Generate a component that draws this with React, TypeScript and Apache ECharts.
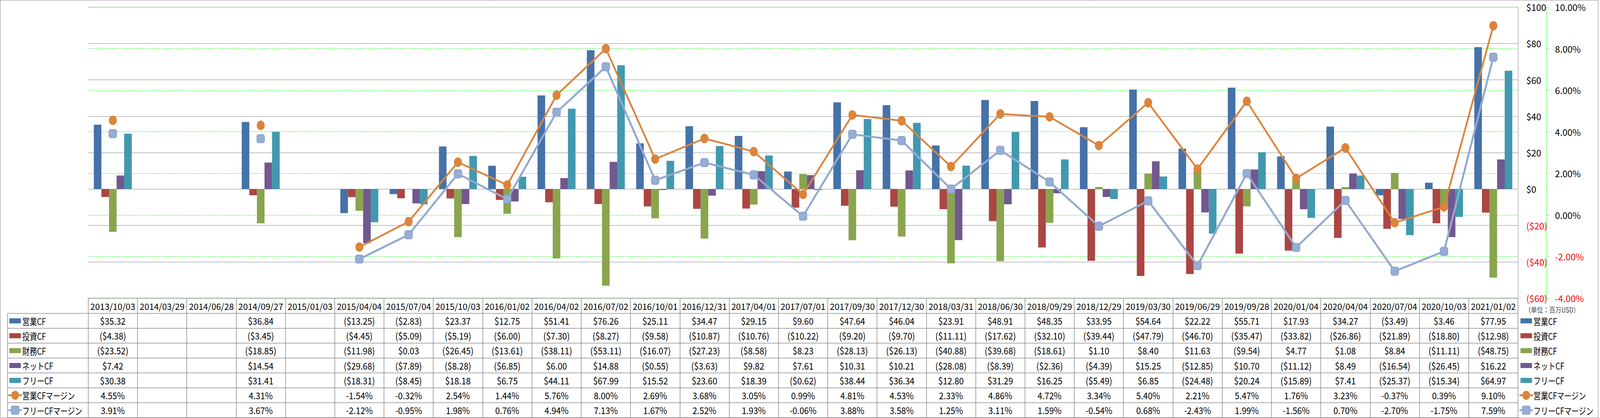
import React, { useEffect, useRef } from "react";
import * as echarts from "echarts";

const categories = [
  "2013/10/03", "2014/03/29", "2014/06/28", "2014/09/27", "2015/01/03", "2015/04/04",
  "2015/07/04", "2015/10/03", "2016/01/02", "2016/04/02", "2016/07/02", "2016/10/01",
  "2016/12/31", "2017/04/01", "2017/07/01", "2017/09/30", "2017/12/30", "2018/03/31",
  "2018/06/30", "2018/09/29", "2018/12/29", "2019/03/30", "2019/06/29", "2019/09/28",
  "2020/01/04", "2020/04/04", "2020/07/04", "2020/10/03", "2021/01/02",
];

const operatingCF = [35.32, null, null, 36.84, null, -13.25, -2.83, 23.37, 12.75, 51.41, 76.26, 25.11, 34.47, 29.15, 9.6, 47.64, 46.04, 23.91, 48.91, 48.35, 33.95, 54.64, 22.22, 55.71, 17.93, 34.27, -3.49, 3.46, 77.95];
const investingCF = [-4.38, null, null, -3.45, null, -4.45, -5.09, -5.19, -6.0, -7.3, -8.27, -9.58, -10.87, -10.76, -10.22, -9.2, -9.7, -11.11, -17.62, -32.1, -39.44, -47.79, -46.7, -35.47, -33.82, -26.86, -21.89, -18.8, -12.98];
const financingCF = [-23.52, null, null, -18.85, null, -11.98, 0.03, -26.45, -13.61, -38.11, -53.11, -16.07, -27.23, -8.58, 8.23, -28.13, -26.13, -40.88, -39.68, -18.61, 1.1, 8.4, 11.63, -9.54, 4.77, 1.08, 8.84, -11.11, -48.75];
const netCF = [7.42, null, null, 14.54, null, -29.68, -7.89, -8.28, -6.85, 6.0, 14.88, -0.55, -3.63, 9.82, 7.61, 10.31, 10.21, -28.08, -8.39, -2.36, -4.39, 15.25, -12.85, 10.7, -11.12, 8.49, -16.54, -26.45, 16.22];
const freeCF = [30.38, null, null, 31.41, null, -18.31, -8.45, 18.18, 6.75, 44.11, 67.99, 15.52, 23.6, 18.39, -0.62, 38.44, 36.34, 12.8, 31.29, 16.25, -5.49, 6.85, -24.48, 20.24, -15.89, 7.41, -25.37, -15.34, 64.97];
const operatingMargin = [4.55, null, null, 4.31, null, -1.54, -0.32, 2.54, 1.44, 5.76, 8.0, 2.69, 3.68, 3.05, 0.99, 4.81, 4.53, 2.33, 4.86, 4.72, 3.34, 5.4, 2.21, 5.47, 1.76, 3.23, -0.37, 0.39, 9.1];
const freeMargin = [3.91, null, null, 3.67, null, -2.12, -0.95, 1.98, 0.76, 4.94, 7.13, 1.67, 2.52, 1.93, -0.06, 3.88, 3.58, 1.25, 3.11, 1.59, -0.54, 0.68, -2.43, 1.99, -1.56, 0.7, -2.7, -1.75, 7.59];

const seriesNames = ["営業CF", "投資CF", "財務CF", "ネットCF", "フリーCF", "営業CFマージン", "フリーCFマージン"];
const colors = ["#4572A7", "#AA4643", "#89A54E", "#71588F", "#4198AF", "#DB843D", "#93A9CF"];

const unitText = "（単位：百万USD）";

const FONT = '"Noto Sans CJK JP", "Noto Sans", sans-serif';
const BORDER = "#8c8c8c";

const money = (v: number | null) =>
  v == null ? "" : v < 0 ? `($${(-v).toFixed(2)})` : `$${v.toFixed(2)}`;
const pct = (v: number | null) => (v == null ? "" : `${v.toFixed(2)}%`);

export default function App() {
  const ref = useRef<HTMLDivElement>(null);
  const W = typeof window !== "undefined" && window.innerWidth ? window.innerWidth : 4447;
  const H = typeof window !== "undefined" && window.innerHeight ? window.innerHeight : 1071;

  useEffect(() => {
    if (!ref.current) return;
    const sx = W / 4447;
    const sy = H / 1071;
    const X = (v: number) => v * sx;
    const Y = (v: number) => v * sy;
    const fs = (v: number) => Math.round(v * sy * 10) / 10;

    const GRID_LEFT = X(245);
    const GRID_RIGHT_X = X(4219);
    const GRID_TOP = Y(18);
    const GRID_BOTTOM_Y = Y(764);
    const HEADER_BOTTOM = Y(803);
    const TABLE_BOTTOM = Y(1070);

    const chart = echarts.init(ref.current, null, { renderer: "svg" });
    const barData = [operatingCF, investingCF, financingCF, netCF, freeCF];
    const lineData = [operatingMargin, freeMargin];

    const series: any[] = [];
    barData.forEach((d, i) => {
      series.push({
        name: seriesNames[i],
        type: "bar",
        yAxisIndex: 0,
        data: d,
        barGap: "0%",
        barCategoryGap: "23%",
        itemStyle: { color: colors[i] },
        z: 2,
      });
    });
    series.push({
      name: seriesNames[5],
      type: "line",
      yAxisIndex: 1,
      data: lineData[0],
      connectNulls: false,
      symbol: "circle",
      symbolSize: [X(21), Y(23)],
      lineStyle: { color: colors[5], width: 4.5 },
      itemStyle: { color: "#DC843A", borderColor: "#D57C33", borderWidth: 1 },
      z: 4,
    });
    series.push({
      name: seriesNames[6],
      type: "line",
      yAxisIndex: 1,
      data: lineData[1],
      connectNulls: false,
      symbol: "roundRect",
      symbolSize: [X(21), Y(21)],
      lineStyle: { color: colors[6], width: 5 },
      itemStyle: { color: "#96ADD4", borderColor: "#8BA3CC", borderWidth: 2 },
      z: 5,
    });

    const dollarFmt = (v: number) => (v < 0 ? `($${-v})` : `$${v}`);
    const pctFmt = (v: number) => `${v.toFixed(2)}%`;

    chart.setOption({
      animation: false,
      backgroundColor: "#ffffff",
      textStyle: { fontFamily: FONT },
      grid: {
        left: GRID_LEFT,
        right: W - GRID_RIGHT_X,
        top: GRID_TOP,
        bottom: H - GRID_BOTTOM_Y,
        containLabel: false,
      },
      xAxis: {
        type: "category",
        data: categories,
        boundaryGap: true,
        axisLine: { show: true, onZero: false, lineStyle: { color: BORDER, width: 1.5 } },
        axisTick: { show: true, length: TABLE_BOTTOM - GRID_BOTTOM_Y, interval: 0, lineStyle: { color: BORDER, width: 1.5 } },
        axisLabel: { interval: 0, margin: Y(9), fontSize: fs(22), color: "#000", fontFamily: FONT },
        splitLine: { show: false },
      },
      yAxis: [
        {
          type: "value",
          position: "right",
          min: -60,
          max: 100,
          interval: 20,
          axisLine: { show: true, lineStyle: { color: "#878787", width: 1 } },
          axisTick: { show: false },
          axisLabel: {
            margin: X(23),
            fontSize: fs(23),
            fontFamily: FONT,
            formatter: dollarFmt,
            color: (v: any) => (Number(v) < 0 ? "#ff0000" : "#000000"),
          },
          splitLine: { show: true, lineStyle: { color: "#878787", width: 1 } },
        },
        {
          type: "value",
          position: "right",
          offset: X(79),
          min: -4,
          max: 10,
          interval: 2,
          axisLine: { show: true, lineStyle: { color: "#00ff00", width: 1, type: [4, 2] } },
          axisTick: { show: true, length: X(9), lineStyle: { color: "#00ff00", width: 1, type: [4, 2] } },
          axisLabel: {
            margin: X(24),
            fontSize: fs(23),
            fontFamily: FONT,
            formatter: pctFmt,
            color: (v: any) => (Number(v) < 0 ? "#ff0000" : "#000000"),
          },
          splitLine: { show: true, lineStyle: { color: "#00ff00", width: 1, type: [4, 2] } },
        },
      ],
      series,
    });

    const xs = categories.map((_, i) => chart.convertToPixel({ xAxisIndex: 0 }, i) as number);
    const rowH = (TABLE_BOTTOM - HEADER_BOTTOM) / 7;
    const tableValues = [operatingCF, investingCF, financingCF, netCF, freeCF, operatingMargin, freeMargin];
    const graphics: any[] = [];

    graphics.push({
      type: "rect",
      silent: true,
      shape: { x: X(1), y: 0.5, width: X(4441), height: H - 1 },
      style: { fill: "none", stroke: "#878787", lineWidth: 1 },
      z: 0,
    });

    for (let r = 0; r <= 7; r++) {
      const y = HEADER_BOTTOM + r * rowH;
      graphics.push({
        type: "line",
        silent: true,
        shape: { x1: X(21), y1: y, x2: GRID_RIGHT_X, y2: y },
        style: { stroke: BORDER, lineWidth: 1.5 },
      });
    }
    graphics.push({
      type: "line",
      silent: true,
      shape: { x1: X(21), y1: HEADER_BOTTOM, x2: X(21), y2: TABLE_BOTTOM },
      style: { stroke: BORDER, lineWidth: 1.5 },
    });

    const keyGraphics = (x0: number, yc: number, idx: number) => {
      const out: any[] = [];
      if (idx < 5) {
        out.push({
          type: "rect",
          silent: true,
          shape: { x: x0, y: yc - 6.5, width: X(32), height: 13 },
          style: { fill: colors[idx] },
        });
      } else {
        const cx = x0 + X(16);
        out.push({
          type: "line",
          silent: true,
          shape: { x1: x0 - X(3), y1: yc, x2: x0 + X(35), y2: yc },
          style: { stroke: colors[idx], lineWidth: 4.5 },
        });
        if (idx === 5) {
          out.push({
            type: "ellipse",
            silent: true,
            shape: { cx, cy: yc, rx: X(10.5), ry: 11.5 },
            style: { fill: "#DC843A" },
          });
        } else {
          out.push({
            type: "rect",
            silent: true,
            shape: { x: cx - X(10.5), y: yc - 10.5, width: X(21), height: 21, r: 3 },
            style: { fill: "#96ADD4", stroke: "#8BA3CC", lineWidth: 2 },
          });
        }
      }
      return out;
    };

    const textEl = (
      text: string,
      x: number,
      y: number,
      align: string,
      size = 24,
      fill = "#000",
      scale = sx
    ) => ({
      type: "text",
      silent: true,
      x,
      y,
      scaleX: scale,
      originX: 0,
      originY: 0,
      style: {
        text,
        x: 0,
        y: 0,
        fill,
        fontSize: fs(size),
        fontFamily: FONT,
        align,
        verticalAlign: "middle",
      },
    });

    const jpScale = sx * 0.85;
    for (let r = 0; r < 7; r++) {
      const yc = HEADER_BOTTOM + r * rowH + rowH / 2;
      graphics.push(...keyGraphics(X(26), yc, r));
      graphics.push(textEl(seriesNames[r], X(62), yc, "left", 24, "#000", jpScale));
      graphics.push(...keyGraphics(X(4226), yc, r));
      graphics.push(textEl(seriesNames[r], X(4262), yc, "left", 24, "#000", jpScale));
      const fmt = r < 5 ? money : pct;
      tableValues[r].forEach((v, i) => {
        const t = fmt(v as number | null);
        if (!t) return;
        graphics.push(textEl(t, xs[i], yc, "center", 24, "#000", sx * 0.97));
      });
    }

    graphics.push(textEl(unitText, X(4238), Y(793), "left", 18, "#404040", sx * 0.94));

    chart.setOption({ graphic: graphics });

    return () => chart.dispose();
  }, []);

  return (
    <div
      ref={ref}
      style={{ position: "absolute", left: 0, top: 0, width: W, height: H, background: "#fff" }}
    />
  );
}
